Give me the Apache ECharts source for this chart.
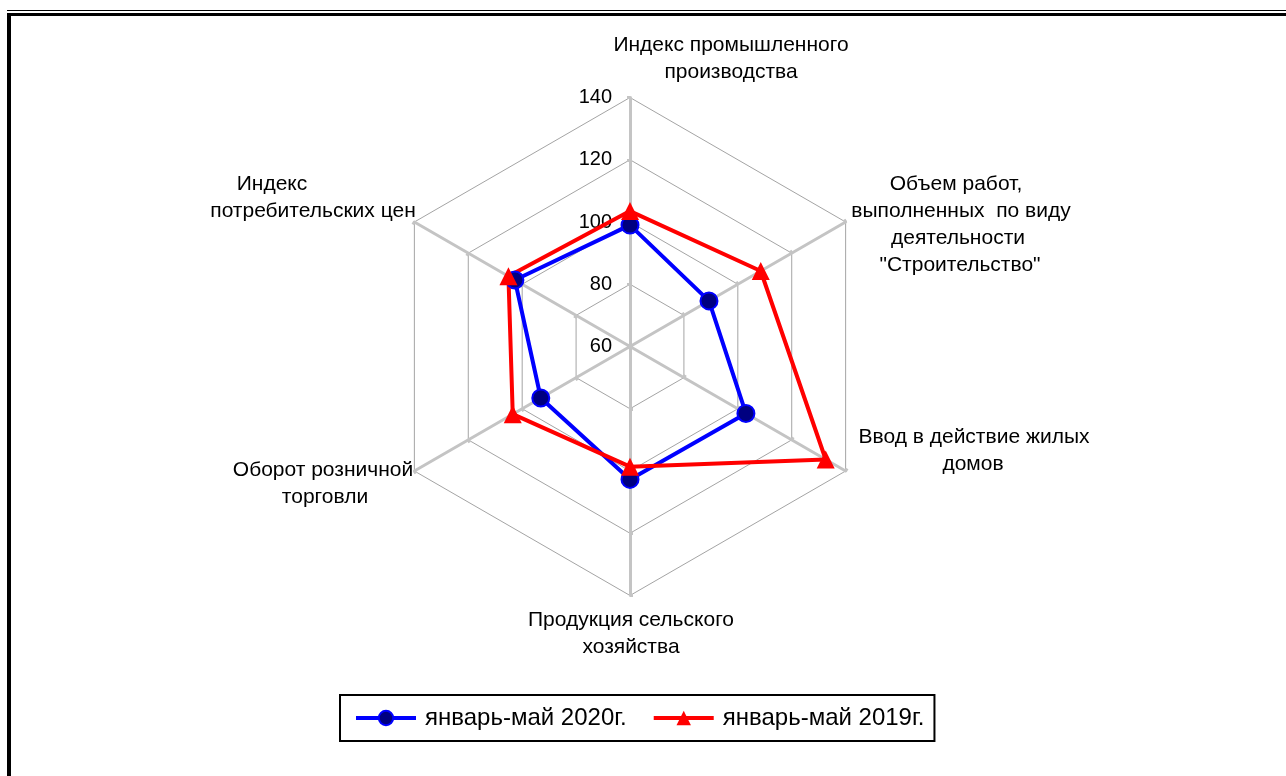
<!DOCTYPE html>
<html><head><meta charset="utf-8">
<script src="https://cdn.jsdelivr.net/npm/echarts@6/dist/echarts.min.js"></script>
<style>html,body{margin:0;padding:0;background:#fff}#c{width:1286px;height:776px}</style>
</head><body><div id="c"></div>
<script>
// ---- data (categories listed clockwise from the top, as in the reference) ----
const categories = [
  'Индекс промышленного\nпроизводства',
  'Объем работ,\nвыполненных  по виду\nдеятельности\n"Строительство"',
  'Ввод в действие жилых\nдомов',
  'Продукция сельского\nхозяйства',
  'Оборот розничной\nторговли',
  'Индекс\nпотребительских цен'
];
const seriesNames = ['январь-май 2020г.', 'январь-май 2019г.'];
const values2020 = [99.0, 89.3, 103.0, 102.7, 93.1, 102.7];
const values2019 = [103.5, 108.5, 132.6, 98.6, 103.5, 105.1];
const tickLabels = ['60', '80', '100', '120', '140'];

// ---- rendering ----
const FONT = 'Liberation Sans, Arial, sans-serif';
const axisMin = Number(tickLabels[0]);
const axisMax = Number(tickLabels[tickLabels.length - 1]);
// ECharts places radar indicators counter-clockwise; reorder to draw them clockwise.
const order = [0, 5, 4, 3, 2, 1];
const indicator = order.map((i, k) => ({
  name: categories[i], min: axisMin, max: axisMax,
  axisLabel: { show: k === 0 }
}));
const reorder = arr => order.map(i => arr[i]);

// label placement (centre x of each line, y of first line)
const labelLayout = [
  { xs: [731, 731], y: 45 },
  { xs: [956, 961, 958, 960], y: 184 },
  { xs: [974, 973], y: 437 },
  { xs: [631, 631], y: 620 },
  { xs: [323, 325], y: 470 },
  { xs: [272, 313], y: 184 }
];
const LINE_H = 27;
const nameGraphics = [];
categories.forEach((c, i) => {
  c.split('\n').forEach((line, j) => {
    nameGraphics.push({
      type: 'text', silent: true,
      x: labelLayout[i].xs[j], y: labelLayout[i].y + j * LINE_H,
      style: { text: line, fill: '#000', font: '21px ' + FONT, textAlign: 'center', textVerticalAlign: 'middle' }
    });
  });
});

const border = [
  { type: 'rect', silent: true, shape: { x: 7, y: 10, width: 1279, height: 1 }, style: { fill: '#000' } },
  { type: 'rect', silent: true, shape: { x: 7, y: 13, width: 1279, height: 3 }, style: { fill: '#000' } },
  { type: 'rect', silent: true, shape: { x: 7, y: 13, width: 4, height: 763 }, style: { fill: '#000' } }
];

const blue = { line: '#0000ff', fill: '#000080' };
const red = { line: '#ff0000', fill: '#ff0000' };

const option = {
  animation: false,
  backgroundColor: '#fff',
  textStyle: { fontFamily: FONT },
  graphic: border.concat(nameGraphics),
  grid: { show: false, left: 0, top: 0, width: 1, height: 1 },
  xAxis: { type: 'category', show: false, data: [] },
  yAxis: { type: 'value', show: false },
  legend: {
    data: seriesNames,
    left: 340, top: 695,
    padding: [11, 10, 11, 14],
    itemGap: 25, itemWidth: 60, itemHeight: 18,
    borderColor: '#000', borderWidth: 2,
    lineStyle: { width: 4 },
    textStyle: { fontSize: 24, color: '#000', fontFamily: FONT, padding: [0, 0, 0, 4] }
  },
  radar: {
    center: [630, 346.5],
    radius: 249,
    startAngle: 90,
    shape: 'polygon',
    splitNumber: tickLabels.length - 1,
    indicator: indicator,
    axisName: { show: false },
    axisLine: { lineStyle: { color: '#c4c4c4', width: 3 } },
    splitLine: { lineStyle: { color: '#a4a4a4', width: 1 } },
    splitArea: { show: false },
    axisTick: { show: true, length: 3, lineStyle: { color: '#c4c4c4', width: 3 } },
    axisLabel: { show: false, color: '#000', fontSize: 20, fontFamily: FONT, margin: 18 }
  },
  series: [
    { type: 'line', name: seriesNames[0], data: [], symbol: 'circle',
      lineStyle: { color: blue.line, width: 4 },
      itemStyle: { color: blue.fill, borderColor: blue.line, borderWidth: 2 } },
    { type: 'line', name: seriesNames[1], data: [], symbol: 'triangle',
      lineStyle: { color: red.line, width: 4 },
      itemStyle: { color: red.fill } },
    { type: 'radar', name: seriesNames[0], silent: true,
      symbol: 'circle', symbolSize: 17,
      lineStyle: { color: blue.line, width: 4 },
      itemStyle: { color: blue.fill, borderColor: blue.line, borderWidth: 2 },
      data: [{ name: seriesNames[0], value: reorder(values2020) }] },
    { type: 'radar', name: seriesNames[1], silent: true,
      symbol: 'triangle', symbolSize: 18,
      lineStyle: { color: red.line, width: 4 },
      itemStyle: { color: red.fill },
      data: [{ name: seriesNames[1], value: reorder(values2019) }] }
  ]
};
echarts.init(document.getElementById('c'), null, { renderer: 'canvas' }).setOption(option);
</script>
</body></html>
